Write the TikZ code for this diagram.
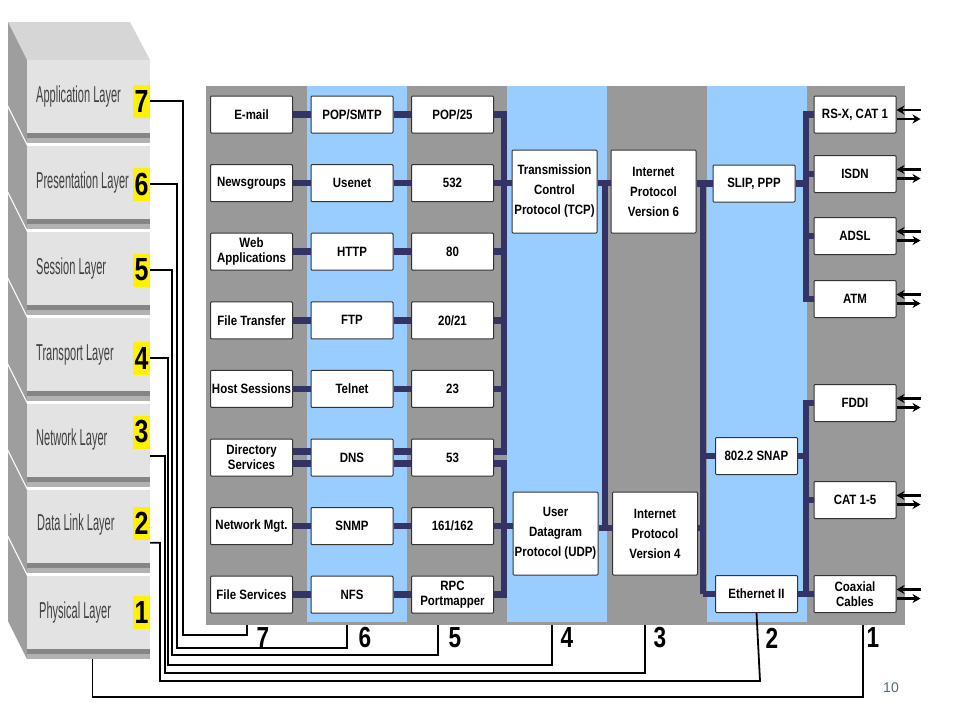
\documentclass[tikz,border=0pt]{standalone}
\usepackage{fontspec}
\setmainfont{Liberation Sans}
\newfontfamily\boxfont[FakeStretch=0.85]{Liberation Sans}
\newfontfamily\layerfont[FakeStretch=0.48]{Liberation Sans}
\newfontfamily\numfont[FakeStretch=0.78]{Liberation Sans}
\usetikzlibrary{arrows.meta}
\definecolor{navy}{HTML}{333366}
\definecolor{panelgray}{HTML}{999999}
\definecolor{stripeblue}{HTML}{99CCFF}
\definecolor{pagegray}{HTML}{4F6B78}

% one slab of the layer stack: #1 = top y, #2 = name
\def\slab#1#2{
  \fill[sideface] (27,#1) -- (8,#1-38) -- (8,#1+45) -- (27,#1+83) -- cycle;
  \fill[black!48] (27,#1+73) rectangle (150,#1+78);
  \fill[black!30] (27,#1+78) rectangle (150,#1+83);
  \node[layerface] (#2) at (88.5,#1+36.5) {};
}
% in/out arrows at a medium
\def\cablearrows#1{
  \draw[cable,{Stealth[length=8pt,width=9pt]}-] ([yshift=4.5pt]#1.east) -- ++(24,0);
  \draw[cable,-{Stealth[length=8pt,width=9pt]}] ([yshift=-4.5pt]#1.east) -- ++(24,0);
}
\tikzset{
  protocol/.style={draw=black!80,fill=white,line width=1pt,rounded corners=1pt,minimum width=82pt,minimum height=37pt,inner sep=1pt,align=center,font=\boxfont\bfseries\fontsize{13.5}{15}\selectfont},
  bigproto/.style={protocol,minimum width=85pt,minimum height=83pt,font=\boxfont\bfseries\fontsize{13.5}{20}\selectfont},
  link/.style={draw=navy,line width=6.5pt},
  wire/.style={draw=black,line width=1.8pt},
  cable/.style={draw=black,line width=2.5pt},
  sideface/.style={fill=black!38},
  topface/.style={fill=black!16},
  layerface/.style={fill=black!11,minimum width=123pt,minimum height=73pt,inner sep=0pt},
  layertext/.style={anchor=west,inner sep=0pt,text=black!75,font=\layerfont\fontsize{23}{26}\selectfont},
  layernum/.style={fill=yellow,inner xsep=1.5pt,inner ysep=0pt,minimum width=17pt,minimum height=33pt,font=\numfont\bfseries\fontsize{32}{32}\selectfont},
  colnum/.style={inner sep=0pt,font=\numfont\bfseries\fontsize{29}{29}\selectfont}
}

\begin{document}
\begin{tikzpicture}[x=1pt,y=-1pt]
  \useasboundingbox (0,0) rectangle (960,720);

  % OSI stack
  \fill[topface] (27,60) -- (8,22) -- (130,22) -- (150,60) -- cycle;
  \slab{576}{l1}
  \slab{490}{l2}
  \slab{404}{l3}
  \slab{318}{l4}
  \slab{232}{l5}
  \slab{146}{l6}
  \slab{60}{l7}
  \node[layertext] at (36,97) {Application Layer};
  \node[layertext] at (36,183) {Presentation Layer};
  \node[layertext] at (36,269) {Session Layer};
  \node[layertext] at (36,355) {Transport Layer};
  \node[layertext] at (36,440) {Network Layer};
  \node[layertext] at (37,525) {Data Link Layer};
  \node[layertext] at (39,613) {Physical Layer};
  \node[layernum] (n7) at (141.5,101) {7};
  \node[layernum] (n6) at (141.5,184) {6};
  \node[layernum] (n5) at (141.5,270) {5};
  \node[layernum] (n4) at (141.5,358) {4};
  \node[layernum] (n3) at (141.5,432) {3};
  \node[layernum] (n2) at (141.5,523) {2};
  \node[layernum] (n1) at (141.5,612) {1};

  % columns
  \fill[panelgray] (206,86) rectangle (905,625);
  \fill[stripeblue] (307,86) rectangle (407,622);
  \fill[stripeblue] (507,86) rectangle (607,622);
  \fill[stripeblue] (707,86) rectangle (807,622);

  % applications
  \node[protocol] (email) at (251.5,114.5) {E-mail};
  \node[protocol] (news) at (251.5,183.1) {Newsgroups};
  \node[protocol] (webapp) at (251.5,251.7) {Web\\Applications};
  \node[protocol] (filetr) at (251.5,320.3) {File Transfer};
  \node[protocol] (hostsess) at (251.5,388.9) {Host Sessions};
  \node[protocol] (dirserv) at (251.5,457.5) {Directory\\Services};
  \node[protocol] (netmgt) at (251.5,526.1) {Network Mgt.};
  \node[protocol] (filesrv) at (251.5,594.7) {File Services};
  % protocols
  \node[protocol] (popsmtp) at (352,114.5) {POP/SMTP};
  \node[protocol] (usenet) at (352,183.1) {Usenet};
  \node[protocol] (http) at (352,251.7) {HTTP};
  \node[protocol] (ftp) at (352,320.3) {FTP};
  \node[protocol] (telnet) at (352,388.9) {Telnet};
  \node[protocol] (dns) at (352,457.5) {DNS};
  \node[protocol] (snmp) at (352,526.1) {SNMP};
  \node[protocol] (nfs) at (352,594.7) {NFS};
  % ports
  \node[protocol] (pop25) at (452.5,114.5) {POP/25};
  \node[protocol] (p532) at (452.5,183.1) {532};
  \node[protocol] (p80) at (452.5,251.7) {80};
  \node[protocol] (p2021) at (452.5,320.3) {20/21};
  \node[protocol] (p23) at (452.5,388.9) {23};
  \node[protocol] (p53) at (452.5,457.5) {53};
  \node[protocol] (p161) at (452.5,526.1) {161/162};
  \node[protocol] (rpc) at (452.5,594.7) {RPC\\Portmapper};
  % transport and network
  \node[bigproto] (tcp) at (554.5,191.5) {Transmission\\Control\\Protocol (TCP)};
  \node[bigproto] (udp) at (555.5,533.5) {User\\Datagram\\Protocol (UDP)};
  \node[bigproto] (ipv6) at (653.5,191.5) {Internet\\Protocol\\Version 6};
  \node[bigproto] (ipv4) at (655,533.5) {Internet\\Protocol\\Version 4};
  % data link
  \node[protocol] (slip) at (754,183.5) {SLIP, PPP};
  \node[protocol] (snap) at (756.5,456) {802.2 SNAP};
  \node[protocol] (ether) at (756.5,594) {Ethernet II};
  % physical
  \node[protocol] (rsx) at (855,114.5) {RS-X, CAT 1};
  \node[protocol] (isdn) at (855,174) {ISDN};
  \node[protocol] (adsl) at (855,236) {ADSL};
  \node[protocol] (atm) at (855,299) {ATM};
  \node[protocol] (fddi) at (855,403) {FDDI};
  \node[protocol] (cat) at (855,500) {CAT 1-5};
  \node[protocol] (coax) at (855,594) {Coaxial\\Cables};

  \coordinate (tcpbus) at (504,0);
  \coordinate (ipbus top) at (605,183.1);
  \coordinate (ipbus bot) at (605,528);
  \coordinate (dlbus top) at (703,183.1);
  \coordinate (dlbus bot) at (703,594);
  \coordinate (phbus) at (806,0);

  \draw[link] (email) -- (popsmtp) -- (pop25);
  \draw[link] (news) -- (usenet) -- (p532);
  \draw[link] (webapp) -- (http) -- (p80);
  \draw[link] (filetr) -- (ftp) -- (p2021);
  \draw[link] (hostsess) -- (telnet) -- (p23);
  \draw[link] ([yshift=6pt]dirserv.east) -- ([yshift=6pt]dns.west);
  \draw[link] ([yshift=-6pt]dirserv.east) -- ([yshift=-6pt]dns.west);
  \draw[link] ([yshift=6pt]dns.east) -- ([yshift=6pt]p53.west);
  \draw[link] ([yshift=-6pt]dns.east) -- ([yshift=-6pt]p53.west);
  \draw[link] (netmgt) -- (snmp) -- (p161);
  \draw[link] (filesrv) -- (nfs) -- (rpc);

  % TCP and UDP buses
  \draw[link] (pop25.east) -| ([yshift=6pt]p53.east -| tcpbus) -- ([yshift=6pt]p53.east);
  \draw[link] (p532) -- (tcp.west |- p532);
  \draw[link] (p80) -- (p80 -| tcpbus);
  \draw[link] (p2021) -- (p2021 -| tcpbus);
  \draw[link] (p23) -- (p23 -| tcpbus);
  \draw[link] ([yshift=-6pt]p53.east) -| (rpc.east -| tcpbus) -- (rpc.east);
  \draw[link] (p161) -- (udp.west |- p161);

  % IP bus
  \draw[link] (ipbus top) -- (ipbus bot);
  \draw[link] (tcp.east |- ipbus top) -- (ipv6.west |- ipbus top);
  \draw[link] (udp.east |- ipbus bot) -- (ipv4.west |- ipbus bot);

  % data link bus
  \draw[link] (dlbus top) -- (dlbus bot);
  \draw[link] (ipv6.east |- slip) -- (slip);
  \draw[link] (ipv4.east |- ipbus bot) -- (ipbus bot -| dlbus top);
  \draw[link] (snap) -- (snap -| dlbus top);
  \draw[link] (ether.west |- dlbus bot) -- (dlbus bot);

  % physical buses
  \draw[link] (rsx.west) -| (atm.west -| phbus) -- (atm.west);
  \draw[link] (slip) -- (slip -| phbus);
  \draw[link] (isdn) -- (isdn -| phbus);
  \draw[link] (adsl) -- (adsl -| phbus);
  \draw[link] (fddi.west) -| (coax.west -| phbus) -- (coax.west);
  \draw[link] (snap) -- (snap -| phbus);
  \draw[link] (cat) -- (cat -| phbus);
  \draw[link] (ether) -- (coax);

  \cablearrows{rsx}
  \cablearrows{isdn}
  \cablearrows{adsl}
  \cablearrows{atm}
  \cablearrows{fddi}
  \cablearrows{cat}
  \cablearrows{coax}

  % layer numbers under the columns
  \node[colnum] (b7) at (263,638) {7};
  \node[colnum] (b6) at (365,638) {6};
  \node[colnum] (b5) at (455,638) {5};
  \node[colnum] (b4) at (567,638) {4};
  \node[colnum] (b3) at (660,638) {3};
  \node[colnum] (b2) at (772,638) {2};
  \node[colnum] (b1) at (873,638) {1};

  \coordinate (t7) at (247,625);
  \coordinate (t6) at (347,625);
  \coordinate (t5) at (438,625);
  \coordinate (t4) at (552,625);
  \coordinate (t3) at (645,625);
  \coordinate (t1) at (863,625);

  \draw[wire] (n7.east) -| (183,635) -| (t7);
  \draw[wire] (n6.east) -| (177,648) -| (t6);
  \draw[wire] (n5.east) -| (172,655) -| (t5);
  \draw[wire] (n4.east) -| (168,665) -| (t4);
  \draw[wire] ([yshift=-7pt]n3.south east) -| (165,673) -| (t3);
  \draw[wire] ([yshift=-3pt]n2.south east) -| (160,681) -- (760,681) -- (ether.south);
  \draw[wire] ([xshift=4pt,yshift=-10pt]l1.south) -- ++(0,38) -| (t1);

  \node[text=pagegray,font=\fontsize{14}{14}\selectfont] (page) at (891,688) {10};
\end{tikzpicture}
\end{document}
